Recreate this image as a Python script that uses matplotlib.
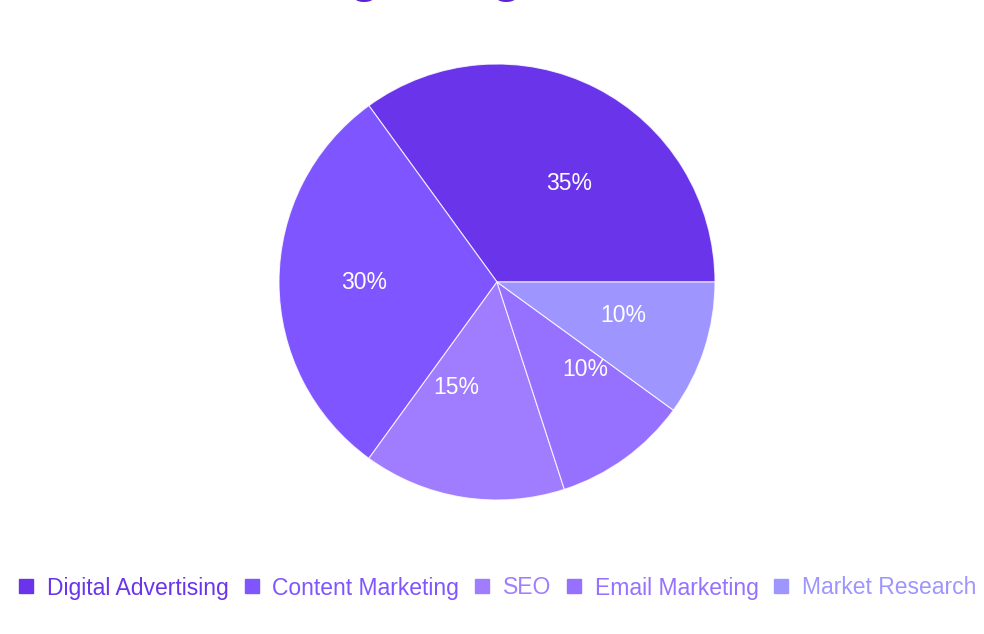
import numpy as np
import matplotlib
matplotlib.use("Agg")
import matplotlib.pyplot as plt
from matplotlib.lines import Line2D

plt.rcParams['font.family'] = ['Liberation Sans', 'DejaVu Sans']

# data
categories = ['Digital Advertising', 'Content Marketing', 'SEO', 'Email Marketing', 'Market Research']
shares = [35, 30, 15, 10, 10]
colors = ['#6a35ea', '#7f55ff', '#a07cff', '#9670ff', '#9e95ff']
title = 'Marketing Budget Allocation'

# angle nudges (deg) and radii so the % labels sit like in the reference
label_nudge = [-9, 0, -12, 9, 3]
label_r = [0.56, 0.61, 0.52, 0.57, 0.60]

W, H = 984, 634
fig = plt.figure(figsize=(W / 100, H / 100), dpi=100)

# pie centre (497, 282) px, radius 218 px
cx, cy, R = 497, 282, 218
ax = fig.add_axes([(cx - R) / W, (H - cy - R) / H, 2 * R / W, 2 * R / H])
wedges, _ = ax.pie(shares, colors=colors, startangle=0, counterclock=True,
                   radius=1, wedgeprops=dict(edgecolor=(1, 1, 1, 0.8), linewidth=0.8))
ax.set_xlim(-1, 1)
ax.set_ylim(-1, 1)
ax.set_aspect('equal')
ax.axis('off')

for w, v, nd, r in zip(wedges, shares, label_nudge, label_r):
    a = np.deg2rad((w.theta1 + w.theta2) / 2 + nd)
    ax.text(r * np.cos(a), r * np.sin(a), f'{v}%', color='white',
            fontsize=16.5, ha='center', va='center')

# title sits mostly above the canvas (cut off in the reference)
fig.text(482.5 / W, 1 + 8 / H, title, fontsize=36.2, fontweight='bold', color='#5b21d6',
         ha='center', va='baseline')

# legend
handles = [Line2D([], [], marker='s', linestyle='none', markersize=9.5,
                  markerfacecolor=c, markeredgecolor=c) for c in colors]
leg = fig.legend(handles, categories, loc='center', bbox_to_anchor=(498 / W, (H - 588) / H),
                 ncol=5, frameon=False, fontsize=16.5, handlelength=0.6,
                 handletextpad=0.6, columnspacing=0.7, borderaxespad=0)
for t, c in zip(leg.get_texts(), colors):
    t.set_color(c)

fig.savefig('out.png', dpi=100, facecolor='white')
